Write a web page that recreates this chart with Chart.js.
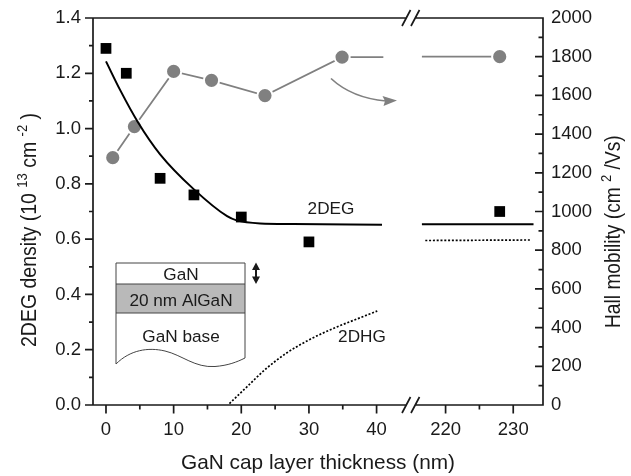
<!DOCTYPE html>
<html>
<head>
<meta charset="utf-8">
<title>GaN cap layer</title>
<script src="https://cdn.jsdelivr.net/npm/chart.js@4"></script>
<style>
  html, body { margin: 0; padding: 0; background: #fff; }
  #wrap { width: 631px; height: 476px; }
</style>
</head>
<body>
<div id="wrap"><canvas id="myChart" width="631" height="476"></canvas></div>
<script>
// measured 2DEG density
var densityX = [0, 3, 8, 13, 20, 30, 228];
var densityY = [1.29, 1.20, 0.82, 0.76, 0.68, 0.59, 0.70];

// measured Hall mobility
var mobilityX = [1, 4.2, 10, 15.6, 23.5, 34.9, 228];
var mobilityY = [1278, 1439, 1724, 1678, 1599, 1798, 1800];

// mobility connecting line, null = axis break
var mobilityLineX = [1, 4.2, 10, 15.6, 23.5, 34.9, 41, null, 216.5, 228];
var mobilityLineY = [1278, 1439, 1724, 1678, 1599, 1798, 1798, null, 1800, 1800];

// calculated 2DEG curve
var curve2degX = [0, 2.1, 4.7, 8, 13, 17.9, 19.3, 22.8, 27.7, 40.8, null, 216.5, 233];
var curve2degY = [1.243, 1.139, 1.024, 0.907, 0.78, 0.683, 0.668, 0.657, 0.655, 0.652, null, 0.654, 0.654];

// calculated 2DHG curve
var curve2dhgX = [18.25, 20.8, 23.7, 26.7, 30.2, 34.1, 37.6, 40.1, null, 217, 232.6];
var curve2dhgY = [0.005, 0.065, 0.132, 0.188, 0.238, 0.282, 0.316, 0.34, null, 0.595, 0.597];

// x axis ticks
var xMajorTicks = [0, 10, 20, 30, 40, 220, 230];
var xMinorTicks = [5, 15, 25, 35, 225];

// the x axis jumps from 40-something to 220-ish, so values past the break are shifted
var BREAK_SHIFT = 169.8;
function fold(x) {
  if (x === null) return null;
  return x > 100 ? x - BREAK_SHIFT : x;
}
function unfold(v) {
  return v > 45 ? Math.round(v + BREAK_SHIFT) : Math.round(v);
}
function toPoints(xs, ys) {
  return xs.map(function (x, i) {
    return { x: fold(x), y: ys[i] };
  });
}

var FONT = '"Liberation Sans", Arial, sans-serif';
var INK = '#1a1a1a';
var GRAY = '#808080';

function drawAxes(chart, ctx) {
  var a = chart.chartArea;
  var x = chart.scales.x;
  var y = chart.scales.y;
  var y1 = chart.scales.y1;
  var breakA = x.getPixelForValue(44.35);
  var breakB = x.getPixelForValue(45.75);
  ctx.save();
  ctx.strokeStyle = INK;
  ctx.lineWidth = 1.7;
  ctx.beginPath();
  // frame with a gap at the break
  ctx.moveTo(breakA, a.top);
  ctx.lineTo(a.left, a.top);
  ctx.lineTo(a.left, a.bottom);
  ctx.lineTo(breakA, a.bottom);
  ctx.moveTo(breakB, a.top);
  ctx.lineTo(a.right, a.top);
  ctx.lineTo(a.right, a.bottom);
  ctx.lineTo(breakB, a.bottom);
  // the two // marks, top and bottom
  [a.top, a.bottom].forEach(function (edge) {
    ctx.moveTo(breakA - 4, edge + 8);
    ctx.lineTo(breakA + 4.5, edge - 8);
    ctx.moveTo(breakB - 4.5, edge + 8);
    ctx.lineTo(breakB + 4, edge - 8);
  });
  // ticks
  y.ticks.forEach(function (t) {
    var p = y.getPixelForValue(t.value);
    var len = Math.round(t.value * 10) % 2 === 0 ? 8 : 4;
    ctx.moveTo(a.left, p);
    ctx.lineTo(a.left - len, p);
  });
  y1.ticks.forEach(function (t) {
    var p = y1.getPixelForValue(t.value);
    var len = t.value % 200 === 0 ? 8 : 4.5;
    ctx.moveTo(a.right, p);
    ctx.lineTo(a.right - len, p);
  });
  xMajorTicks.forEach(function (t) {
    var p = x.getPixelForValue(fold(t));
    ctx.moveTo(p, a.bottom);
    ctx.lineTo(p, a.bottom + 8.5);
  });
  xMinorTicks.forEach(function (t) {
    var p = x.getPixelForValue(fold(t));
    ctx.moveTo(p, a.bottom);
    ctx.lineTo(p, a.bottom + 4.5);
  });
  ctx.stroke();
  ctx.restore();
}

function drawVerticalTitle(ctx, parts, size, x, yStart) {
  ctx.save();
  ctx.translate(x, yStart);
  ctx.rotate(-Math.PI / 2);
  // rotated text in the scan is a bit wider across than along
  ctx.scale(1, 1.16);
  ctx.fillStyle = INK;
  ctx.textAlign = 'left';
  ctx.textBaseline = 'alphabetic';
  var pos = 0;
  parts.forEach(function (p) {
    ctx.font = (p.sup ? 13 : size) + 'px ' + FONT;
    ctx.fillText(p.text, pos, p.sup ? -7.5 : 0);
    pos += ctx.measureText(p.text).width;
  });
  ctx.restore();
}

function drawInset(ctx) {
  ctx.save();
  var left = 116, right = 245, top = 263, mid1 = 284, mid2 = 313;
  ctx.fillStyle = '#b9b9b9';
  ctx.fillRect(left, mid1, right - left, mid2 - mid1);
  ctx.strokeStyle = '#444';
  ctx.lineWidth = 1;
  ctx.beginPath();
  ctx.moveTo(left, 364);
  ctx.lineTo(left, top);
  ctx.lineTo(right, top);
  ctx.lineTo(right, 358);
  ctx.moveTo(left, mid1);
  ctx.lineTo(right, mid1);
  ctx.moveTo(left, mid2);
  ctx.lineTo(right, mid2);
  ctx.moveTo(left, 364);
  ctx.bezierCurveTo(130, 350, 148, 347, 165, 351);
  ctx.bezierCurveTo(182, 355, 195, 368, 215, 366.5);
  ctx.bezierCurveTo(228, 365.5, 237, 362, 245, 358);
  ctx.stroke();

  // double arrow next to the cap layer
  ctx.strokeStyle = INK;
  ctx.fillStyle = INK;
  ctx.lineWidth = 2;
  ctx.beginPath();
  ctx.moveTo(256, 266);
  ctx.lineTo(256, 280);
  ctx.stroke();
  ctx.beginPath();
  ctx.moveTo(256, 262.5);
  ctx.lineTo(252, 270);
  ctx.lineTo(260, 270);
  ctx.closePath();
  ctx.moveTo(256, 284);
  ctx.lineTo(252, 276.5);
  ctx.lineTo(260, 276.5);
  ctx.closePath();
  ctx.fill();

  ctx.fillStyle = INK;
  ctx.textAlign = 'center';
  ctx.textBaseline = 'middle';
  ctx.font = '17.2px ' + FONT;
  ctx.fillText('GaN', 181, 275);
  ctx.fillText('20 nm AlGaN', 181, 301.5);
  ctx.fillText('GaN base', 181, 337);
  ctx.restore();
}

function drawArrow(ctx) {
  ctx.save();
  ctx.strokeStyle = GRAY;
  ctx.fillStyle = GRAY;
  ctx.lineWidth = 1.7;
  ctx.beginPath();
  ctx.moveTo(331, 78.5);
  ctx.quadraticCurveTo(352, 98, 386, 101);
  ctx.stroke();
  ctx.beginPath();
  ctx.moveTo(397, 100.5);
  ctx.lineTo(382.5, 96);
  ctx.lineTo(385, 101);
  ctx.lineTo(383.5, 106);
  ctx.closePath();
  ctx.fill();
  ctx.restore();
}

var extras = {
  id: 'extras',
  afterDatasetsDraw: function (chart) {
    var ctx = chart.ctx;
    drawAxes(chart, ctx);
    drawInset(ctx);
    drawArrow(ctx);

    ctx.save();
    ctx.fillStyle = INK;
    ctx.textAlign = 'center';
    ctx.textBaseline = 'middle';
    ctx.font = '17.2px ' + FONT;
    ctx.fillText('2DEG', 331, 209.5);
    ctx.fillText('2DHG', 362, 337.5);
    ctx.restore();

    drawVerticalTitle(ctx, [
      { text: '2DEG density (10 ' },
      { text: '13', sup: true },
      { text: ' cm ' },
      { text: '-2', sup: true },
      { text: ' )' }
    ], 19.5, 36, 347);
    drawVerticalTitle(ctx, [
      { text: 'Hall mobility (cm ' },
      { text: '2', sup: true },
      { text: ' /Vs)' }
    ], 19.2, 620, 328);
  }
};

// tick label overhang would otherwise push the plot area in
function noPadding(scale) {
  scale.paddingTop = 0;
  scale.paddingBottom = 0;
  scale.paddingLeft = 0;
  scale.paddingRight = 0;
}

var ctx = document.getElementById('myChart').getContext('2d');
var myChart = new Chart(ctx, {
  type: 'scatter',
  data: {
    datasets: [
      {
        label: '2DEG density',
        data: toPoints(densityX, densityY),
        yAxisID: 'y',
        pointStyle: 'rect',
        pointRadius: 7.6,
        backgroundColor: '#000',
        borderColor: '#000',
        borderWidth: 0,
        showLine: false
      },
      {
        label: '2DEG curve',
        data: toPoints(curve2degX, curve2degY),
        yAxisID: 'y',
        showLine: true,
        pointRadius: 0,
        borderColor: '#000',
        borderWidth: 2,
        cubicInterpolationMode: 'monotone',
        spanGaps: false
      },
      {
        label: '2DHG curve',
        data: toPoints(curve2dhgX, curve2dhgY),
        yAxisID: 'y',
        showLine: true,
        pointRadius: 0,
        borderColor: '#000',
        borderWidth: 1.7,
        borderDash: [2, 1.8],
        cubicInterpolationMode: 'monotone',
        spanGaps: false
      },
      {
        label: 'Hall mobility',
        data: toPoints(mobilityX, mobilityY),
        yAxisID: 'y1',
        pointStyle: 'circle',
        pointRadius: 7.6,
        backgroundColor: GRAY,
        borderColor: '#fff',
        borderWidth: 2,
        showLine: false
      },
      {
        label: 'Hall mobility line',
        data: toPoints(mobilityLineX, mobilityLineY),
        yAxisID: 'y1',
        showLine: true,
        pointRadius: 0,
        borderColor: GRAY,
        borderWidth: 1.8,
        spanGaps: false
      }
    ]
  },
  options: {
    responsive: false,
    animation: false,
    layout: { padding: { top: 18 } },
    plugins: {
      legend: { display: false },
      tooltip: { enabled: false }
    },
    scales: {
      x: {
        type: 'linear',
        min: -1.92,
        max: 64.6,
        grid: { display: false, drawTicks: false },
        border: { display: false },
        afterBuildTicks: function (scale) {
          scale.ticks = xMajorTicks.map(function (t) {
            return { value: fold(t) };
          });
        },
        afterFit: function (scale) {
          scale.height = 71;
          noPadding(scale);
        },
        ticks: {
          autoSkip: false,
          maxRotation: 0,
          padding: 14,
          color: INK,
          font: { family: FONT, size: 18.5 },
          callback: function (v) {
            return String(unfold(v));
          }
        },
        title: {
          display: true,
          text: 'GaN cap layer thickness (nm)',
          color: INK,
          font: { family: FONT, size: 20.8 },
          padding: { top: 12, bottom: 0 }
        }
      },
      y: {
        position: 'left',
        min: 0,
        max: 1.4,
        grid: { display: false, drawTicks: false },
        border: { display: false },
        afterFit: function (scale) {
          scale.width = 93;
          noPadding(scale);
        },
        ticks: {
          stepSize: 0.1,
          autoSkip: false,
          padding: 12,
          color: INK,
          font: { family: FONT, size: 18.5 },
          callback: function (v) {
            return Math.round(v * 10) % 2 === 0 ? v.toFixed(1) : '';
          }
        }
      },
      y1: {
        position: 'right',
        min: 0,
        max: 2000,
        grid: { display: false, drawTicks: false },
        border: { display: false },
        afterFit: function (scale) {
          scale.width = 88;
          noPadding(scale);
        },
        ticks: {
          stepSize: 100,
          autoSkip: false,
          padding: 8,
          color: INK,
          font: { family: FONT, size: 18.5 },
          callback: function (v) {
            return v % 200 === 0 ? String(v) : '';
          }
        }
      }
    }
  },
  plugins: [extras]
});
</script>
</body>
</html>
